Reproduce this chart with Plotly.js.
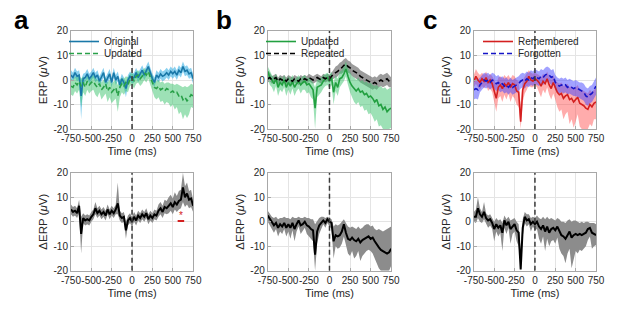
<!DOCTYPE html>
<html><head><meta charset="utf-8">
<script src="https://cdn.plot.ly/plotly-3.0.1.min.js"></script>
<style>html,body{margin:0;padding:0;background:#fff}#chart{width:617px;height:309px}</style>
</head><body><div id="chart"></div>
<script>
// time axis (ms), 25 ms steps
const time = [-750,-725,-700,-675,-650,-625,-600,-575,-550,-525,-500,-475,-450,-425,-400,-375,-350,-325,-300,-275,-250,-225,-200,-175,-150,-125,-100,-75,-50,-25,0,25,50,75,100,125,150,175,200,225,250,275,300,325,350,375,400,425,450,475,500,525,550,575,600,625,650,675,700,725,750];
const xTickVals = [-750,-500,-250,0,250,500,750];
const xTickText = ["-750","-500","-250","0","250","500","750"];
const yTickVals = [-20,-10,0,10,20];
const yTickText = ["-20","-10","0","10","20"];

// ---- Panel a (top): Original vs Updated ----
const aOrig   = [2,1,3,1.5,2,-6.5,0.5,1,2.5,0.5,1.5,3,1,2,-0.5,1,3,-1,0.5,2.5,-1,3,0,1.5,-2,0.5,-1,-3.5,0,1.5,0.5,1,3,1,2.5,4,2,3.5,5.5,3,0.5,-1,2,1,2.5,1.5,2,3,2,3.5,2.5,3.5,2,4,3,5.5,3.5,4,2.5,3,0.5];
const aOrigLo = [0,-0.5,1,-0.5,0,-16,-2,-1,0.5,-1.5,-0.5,1,-1,0,-2.5,-1,1,-3,-1.5,0.5,-3,1,-2,-0.5,-4,-1.5,-3,-7,-2,-0.5,-1.5,-1,1,-1,0.5,2,0,1.5,3.5,1,-1.5,-3,0,-1,0.5,-0.5,0,1,0,1.5,0.5,1.5,0,2,1,3.5,1.5,2,0.5,1,-1.5];
const aOrigHi = [4,3,5,3.5,4,0,2.5,3,4.5,2.5,3.5,5,3,4,1.5,3,5,1,2.5,4.5,1,5,2,3.5,0,2.5,1,-1,2,3.5,2.5,3,5,3,4.5,6,4,5.5,7.5,5,2.5,1,4,3,4.5,3.5,4,5,4,5.5,4.5,5.5,4,6,5,7.5,5.5,6,4.5,5,2.5];
const aUpd    = [-2.5,-3,-1,-2,-0.5,-2.5,-1,-3,-0.5,-2,-1,-0.5,-2,-3,-1.5,-4,-3,-1.5,-4.5,-3,-5,-4,-3,-6.5,-3,-1.5,-2.5,-1,-2,0.5,1,-0.5,1.5,2,0.5,1.5,3,2,3.5,1,-1,-3,-3.5,-2.5,-4,-3.5,-4.5,-3.5,-4,-5,-4.5,-5.5,-5,-6.5,-6,-8,-7,-8.5,-7.5,-6,-6.5];
const aUpdLo  = [-6,-6.5,-4.5,-5.5,-4,-11,-5,-6.5,-4,-5.5,-4.5,-4,-6,-7,-5,-8,-7,-5.5,-9,-7,-9.5,-8.5,-7.5,-13,-7,-5,-6,-4.5,-5,-2.5,-2,-3.5,-1.5,-1,-2.5,-1.5,0,-1,0.5,-2,-4.5,-7,-8,-7,-9,-8.5,-10,-9,-9.5,-11,-10,-12,-11,-14,-13,-16,-14,-15.5,-14,-11,-11.5];
const aUpdHi  = [0.5,0,1.5,1,2,0.5,1.5,0,2,1,1.5,2,1,0,1,-1,0,1,-1,0,-1.5,-0.5,0,-2,0,1,0.5,1.5,1,2.5,3,2,3.5,4,3,3.5,5,4,5.5,3.5,1.5,0,-0.5,0,-1,-0.5,-1.5,-1,-1,-1.5,-1.5,-2,-1.5,-2,-2.5,-3,-2.5,-3,-2.5,-1.5,-2];
// ---- Panel a (bottom): difference ----
const aDiff   = [5,4,4.5,3.5,6.5,-5,1.5,0.5,1,0.5,2,3,5.5,3.5,4.5,3,4,2.5,5,3,4.5,3.5,5,7.5,2.5,1.5,2,-3.5,0.5,1.5,0,2,0.5,2.5,1.5,3,2,3.5,1,2.5,1.5,3,2.5,4.5,5.5,4,6,5.5,6.5,7.5,6,8,7,8.5,9,14,10,11.5,9,9.5,6.5];
const aDiffLo = [3,2,2.5,1.5,3.5,-13,-0.5,-1.5,-1,-1.5,0,1,3,1.5,2.5,1,2,0.5,3,1,2.5,1.5,3,3,0.5,-0.5,0,-7,-1.5,-0.5,-2,0,-1.5,0.5,-0.5,1,0,1.5,-1,0.5,-0.5,1,0.5,2,3,1.5,3.5,3,3.5,4.5,3,5,4,5,5.5,8,6,7,5.5,6,4];
const aDiffHi = [7,6,6.5,5.5,9,2,3.5,2.5,3,2.5,4,5,8,5.5,6.5,5,6,4.5,7,5,6.5,5.5,7,16,4.5,3.5,4,0,2.5,3.5,2,4,2.5,4.5,3.5,5,4,5.5,3,4.5,3.5,5,4.5,7,8,6.5,9,8.5,10,11,9.5,12,10.5,12.5,13,20,14.5,16,12.5,13,9];
const aSigX = [560,640];
const aSigY = [0.3,0.3];
const aStarX = [600];
const aStarY = [2.2];

// ---- Panel b (top): Updated vs Repeated ----
const bUpd    = [3.5,1,0,-1.5,0.5,-3,-1,-2,0,-3,-1,-2.5,-0.5,-3,-1.5,-0.5,-2,-1,-0.5,-2,-1.5,-3,-4,-11.5,-3,-2.5,-2,-0.5,0.5,1,-0.5,1,-5,-1,-3,0.5,1,2.5,4.5,1.5,-1,-2.5,-3.5,-4.5,-3.5,-5,-4.5,-6,-5.5,-7,-6.5,-7.5,-9,-8,-10.5,-10,-12,-11,-13,-12,-11.5];
const bUpdLo  = [0.5,-2,-3,-5,-2.5,-6.5,-4,-5,-3,-6.5,-4,-6,-3.5,-6.5,-4.5,-3.5,-5.5,-4,-4,-5.5,-5,-7,-8,-20,-7,-6,-5,-3.5,-2.5,-2,-3.5,-2,-10,-4.5,-6.5,-3,-2,-0.5,1.5,-2,-5,-7,-9,-10,-9,-11,-10.5,-12.5,-12,-14,-13.5,-15,-17,-16,-19,-18.5,-20,-20,-20,-20,-19.5];
const bUpdHi  = [5.5,3.5,2,1,2.5,0,1.5,0.5,2,0,1.5,0.5,2,0,1,2,0.5,1.5,2,0.5,1,0,-1,-3,0,0.5,1,2,2.5,3,2,3.5,-1,2,0.5,3.5,4,5.5,7.5,5,3,1.5,1,0,1,-0.5,0,-1,-0.5,-1.5,-1,-2,-2.5,-2,-3,-2.5,-3.5,-3,-4,-3.5,-3];
const bRep    = [0.5,1,0,0.5,1,-0.5,0.5,0,0.5,-0.5,0.5,0,-0.5,0.5,0,-0.5,0.5,0,0.5,0,1,0.5,0,0.5,1,0.5,0,1,0.5,1,0.5,1.5,2.5,3,3.5,4.5,5,6,6.5,5.5,5,4,3.5,3,2.5,1.5,1,0.5,0,-0.5,-1,-1.5,-1,-1.5,-0.5,0,-0.5,0,0.5,-0.5,-1];
const bRepLo  = [-1,-0.5,-1.5,-1,-0.5,-2,-1,-1.5,-1,-2,-1,-1.5,-2,-1,-1.5,-2,-1,-1.5,-1,-1.5,-0.5,-1,-1.5,-1,-0.5,-1,-1.5,-0.5,-1,-0.5,-1,0,0.5,1,1.5,2.5,2.5,3.5,4,3,2.5,1.5,1,0.5,0,-1,-1.5,-2,-2.5,-3,-3.5,-4,-3.5,-4,-3,-2.5,-3,-2.5,-2,-3,-3];
const bRepHi  = [4,3,1.5,2,2.5,1,2,1.5,2,1,2,1.5,1,2,1.5,1,2,1.5,2,1.5,2.5,2,1.5,2,2.5,2,1.5,2.5,2,2.5,2,3,4.5,5.5,6,7,7.5,8.5,9,8,7.5,6.5,6,5.5,5,4,3.5,3,2.5,2,1.5,1,1.5,1,2,2.5,2,2.5,3,2,1];
// ---- Panel b (bottom): difference ----
const bDiff   = [2.5,1,-0.5,-1.5,-0.5,-2.5,-1,-2,-0.5,-2.5,-1,-2.5,-0.5,-3,-1,0.5,-1.5,-1,0,-1.5,-2,-3,-3.5,-13.5,-4,-1.5,-0.5,0.5,-0.5,1,0,-0.5,-8,-5.5,-6,-5.5,-4,-1,-4.5,-7,-7.5,-6.5,-7.5,-8,-7,-8.5,-7.5,-7,-6.5,-6,-7,-6.5,-8,-9.5,-10.5,-11.5,-12,-12.5,-13,-12.5,-11];
const bDiffLo = [0,-1.5,-3,-4.5,-3,-6,-4,-5,-3,-6,-4,-7,-3.5,-8,-4,-2,-5,-4,-2.5,-5,-6,-7,-8,-20,-9,-5,-3,-1,-2.5,-0.5,-2,-3,-15,-10,-11,-10.5,-9,-6,-10,-13,-14,-12,-15,-14,-12,-16,-14,-13,-12,-11.5,-12,-13,-15,-17,-19,-20,-20,-20,-20,-20,-18];
const bDiffHi = [4.5,3,2,1.5,2,1,1.5,1.5,2,1.5,1.5,1,2,1.5,1.5,2,1.5,1.5,2,1.5,1.5,1,1,-1,0.5,1.5,2,2,1.5,2,1.5,1,-2,-1,-1.5,-1,0,1,-0.5,-2,-2.5,-2,-2.5,-3,-2,-3,-2.5,-1.5,-1,-1,-2,-1.5,-3,-3.5,-3,-3.5,-4,-3.5,-3,-2.5,-2];

// ---- Panel c (top): Remembered vs Forgotten ----
const cRem    = [-0.5,1.5,0,-1,0.5,-0.5,1,-1,0,-1.5,-4.5,-7.5,-3,-2,-3.5,-1.5,-2.5,-1,-3,-1.5,-2,-4.5,-5,-17,-4,-1.5,-0.5,1.5,0,-0.5,0.5,0,-1,-2.5,-0.5,-1.5,0.5,-2,-3.5,-1,-3,-5,-6,-5.5,-7.5,-6.5,-6,-8,-7.5,-9,-8,-7,-9.5,-10,-10.5,-11.5,-12,-10,-11,-9.5,-9];
const cRemLo  = [-3,-1.5,-3,-4,-2.5,-3.5,-2,-4.5,-3.5,-5,-9,-13,-7.5,-6.5,-9,-6,-8,-5.5,-9,-6.5,-7.5,-10,-11,-20,-9,-5.5,-4,-2,-3,-3,-2,-3,-5,-7,-4,-5.5,-3,-6,-8,-5.5,-8,-11,-13,-12,-16,-14,-13,-18,-16,-19.5,-17,-14,-19,-20,-20,-20,-20,-18,-19,-16,-16];
const cRemHi  = [2,4.5,3,2,3,2,3.5,1.5,2.5,1.5,0,-2,1,1.5,0.5,2,1,2,0.5,2,1.5,0,-0.5,-10,0,1.5,2.5,4,3,2.5,3,2.5,2,1,2.5,1.5,3.5,1.5,0,2,0,-1,-1.5,-1,-2.5,-2,-1.5,-3,-2.5,-3.5,-3,-2,-4,-4,-4.5,-5,-5.5,-4,-5,-4,-3.5];
const cFor    = [-4,-3.5,-4,-2,-1,0,-0.5,0,-1,0,-0.5,-1.5,-1,-2,-1.5,-2.5,-2,-3,-2,-3,-2.5,-2,-1.5,-0.5,0,-0.5,0.5,0,1,0.5,1.5,1,0.5,1.5,1,2,2.5,2,1,1.5,-1,-2,-2.5,-2,-2.5,-2,-3,-2.5,-3,-3.5,-3,-3.5,-4,-4.5,-5,-6.5,-7,-6,-5.5,-4,-2.5];
const cForLo  = [-8,-7.5,-8,-5,-4,-3,-3.5,-3,-4,-3,-3.5,-4.5,-4,-5,-4.5,-5.5,-5,-6,-5,-6,-5.5,-5,-4.5,-3.5,-3,-3.5,-2.5,-3,-2,-2.5,-1.5,-2,-2.5,-1.5,-2,-1,-0.5,-1,-2,-1.5,-4,-5,-5.5,-5,-5.5,-5,-6,-5.5,-6,-6.5,-6.5,-7,-7.5,-8,-8.5,-10,-10.5,-9.5,-9,-7.5,-6];
const cForHi  = [0,0.5,0,1,2,3,2.5,3,2,3,2.5,1.5,2,1,1.5,0.5,1,0,1,0,0.5,1,1.5,2.5,3,2.5,3.5,3,4,3.5,4.5,4,3.5,4.5,4,5,5.5,5,4,4.5,2,1,0.5,1,0.5,1,0,0.5,0,-0.5,0,-0.5,-1,-1,-1.5,-3,-3.5,-2.5,-2,-0.5,1];
// ---- Panel c (bottom): difference ----
const cDiff   = [2,2,5.5,3,2,4,1.5,0.5,1,-0.5,-3,-1,-2.5,-1.5,-4.5,0.5,-1.5,0,-3,-2,-1,-3.5,-4.5,-19.5,-2.5,2,0.5,1,-1,0,-1,0,-2,-3,-1.5,-4,-2,-4.5,-3,-2.5,-3.5,-2,-4,-5.5,-6,-7,-5.5,-4,-6.5,-5.5,-5,-5.5,-5,-5.5,-5,-4.5,-3,-2.5,-4.5,-5,-5.5];
const cDiffLo = [0,-0.5,1.5,0,-0.5,1,-1,-2.5,-1.5,-3,-8,-4,-6,-4.5,-12,-2.5,-5,-2.5,-9,-5,-4,-8,-10,-20,-6,-0.5,-2,-1,-4,-2,-3.5,-3,-7,-9,-6,-12,-7,-10,-8,-7.5,-9,-6.5,-11,-13,-14,-17,-13,-11,-19,-15,-12,-13,-11.5,-12,-11,-10,-7.5,-6,-11,-10,-9.5];
const cDiffHi = [4,5,10,5.5,4,8,3.5,2.5,3,1.5,0,1.5,0.5,1,-0.5,2.5,1,2,0.5,1,1.5,0,-1,-12,1,4,3,3,1.5,2,1.5,2.5,1.5,1,2,1,2,1,1.5,1,0.5,1.5,1,0,0,-0.5,0.5,1,0,0.5,0.5,0,-0.5,0,-0.5,0,0,-0.5,-0.5,-0.5,-1];

const FONT = "Liberation Sans, Arial, Helvetica, sans-serif";
const traces = [];
function band(xa, ya, lo, hi, color) {
  traces.push({x: time.concat(time.slice().reverse()), y: hi.concat(lo.slice().reverse()),
    xaxis: xa, yaxis: ya, type: 'scatter', mode: 'lines', fill: 'toself', fillcolor: color,
    line: {width: 0, color: 'rgba(0,0,0,0)'}, hoverinfo: 'skip', showlegend: false});
}
function line(xa, ya, y, color, dash, name, legend, width) {
  traces.push({x: time, y: y, xaxis: xa, yaxis: ya, type: 'scatter', mode: 'lines',
    line: {color: color, width: width || 1.6, dash: dash || 'solid'}, name: name || '',
    showlegend: !!name, legend: legend});
}
// panel a top
band('x', 'y', aOrigLo, aOrigHi, 'rgba(40,170,225,0.55)');
band('x', 'y', aUpdLo, aUpdHi, 'rgba(60,195,110,0.5)');
line('x', 'y', aOrig, '#1a78a8', 'solid', 'Original', 'legend');
line('x', 'y', aUpd, '#28a048', '5px,3px', 'Updated', 'legend4');
// panel b top
band('x2', 'y2', bRepLo, bRepHi, 'rgba(90,90,90,0.6)');
band('x2', 'y2', bUpdLo, bUpdHi, 'rgba(60,195,110,0.5)');
line('x2', 'y2', bUpd, '#22a040', 'solid', 'Updated', 'legend2');
line('x2', 'y2', bRep, '#000000', '5px,3px', 'Repeated', 'legend5');
// panel c top
band('x3', 'y3', cRemLo, cRemHi, 'rgba(255,70,70,0.45)');
band('x3', 'y3', cForLo, cForHi, 'rgba(70,70,255,0.5)');
line('x3', 'y3', cRem, '#d41f1f', 'solid', 'Remembered', 'legend3');
line('x3', 'y3', cFor, '#1515c8', '5px,3px', 'Forgotten', 'legend6');
// bottom panels
band('x4', 'y4', aDiffLo, aDiffHi, '#8c8c8c');
line('x4', 'y4', aDiff, '#000000', 'solid', null, null, 2);
band('x5', 'y5', bDiffLo, bDiffHi, '#8c8c8c');
line('x5', 'y5', bDiff, '#000000', 'solid', null, null, 2);
band('x6', 'y6', cDiffLo, cDiffHi, '#8c8c8c');
line('x6', 'y6', cDiff, '#000000', 'solid', null, null, 2);
// significance marker
traces.push({x: aSigX, y: aSigY, xaxis: 'x4', yaxis: 'y4', type: 'scatter', mode: 'lines',
  line: {color: '#d42020', width: 2}, showlegend: false, hoverinfo: 'skip'});
traces.push({x: aStarX, y: aStarY, xaxis: 'x4', yaxis: 'y4', type: 'scatter', mode: 'text',
  text: ['*'], textfont: {color: '#d42020', size: 10, family: FONT}, showlegend: false, hoverinfo: 'skip'});

const xDom = [[0.115,0.313],[0.434,0.634],[0.768,0.966]];
const yDom = [[0.5825,0.8997],[0.124,0.441]];
function xax(i, anchor) {
  return {domain: xDom[i % 3], anchor: anchor, range: [-750,750], tickvals: xTickVals, ticktext: xTickText,
    tickangle: 0, showgrid: true, gridcolor: '#e4e4e4', zeroline: false, showline: true, mirror: true,
    linecolor: '#a8a8a8', linewidth: 1, ticks: 'inside', ticklen: 3, tickcolor: '#a8a8a8',
    tickfont: {family: FONT, size: 10, color: '#262626'}, fixedrange: true,
    title: {text: 'Time (ms)', font: {family: FONT, size: 11, color: '#262626'}, standoff: 4}};
}
function yax(i, anchor, label) {
  return {domain: yDom[i < 3 ? 0 : 1], anchor: anchor, range: [-20,20], tickvals: yTickVals, ticktext: yTickText,
    showgrid: true, gridcolor: '#e4e4e4', zeroline: false, showline: true, mirror: true,
    linecolor: '#a8a8a8', linewidth: 1, ticks: 'inside', ticklen: 3, tickcolor: '#a8a8a8',
    tickfont: {family: FONT, size: 10, color: '#262626'}, fixedrange: true,
    title: {text: label, font: {family: FONT, size: 11.5, color: '#262626'}, standoff: 3}};
}
const erp = 'ERP (<i>μ</i>V)';
const derp = 'ΔERP (<i>μ</i>V)';
const legBase = {bgcolor: 'rgba(0,0,0,0)', borderwidth: 0, font: {family: FONT, size: 10, color: '#262626'},
  xanchor: 'left', yanchor: 'top', tracegroupgap: 0, itemwidth: 30};
function leg(xpx, ypx) { return Object.assign({}, legBase, {x: xpx / 617, y: 1 - ypx / 309}); }
const layout = {
  width: 617, height: 309, margin: {l: 0, r: 0, t: 0, b: 0}, paper_bgcolor: '#fff', plot_bgcolor: '#fff',
  showlegend: true,
  xaxis: xax(0, 'y'), yaxis: yax(0, 'x', erp),
  xaxis2: xax(1, 'y2'), yaxis2: yax(1, 'x2', erp),
  xaxis3: xax(2, 'y3'), yaxis3: yax(2, 'x3', erp),
  xaxis4: xax(3, 'y4'), yaxis4: yax(3, 'x4', derp),
  xaxis5: xax(4, 'y5'), yaxis5: yax(4, 'x5', derp),
  xaxis6: xax(5, 'y6'), yaxis6: yax(5, 'x6', derp),
  legend: leg(64, 27), legend4: leg(64, 39),
  legend2: leg(261, 27), legend5: leg(261, 39),
  legend3: leg(478, 27), legend6: leg(478, 39),
  shapes: [['x','y'],['x2','y2'],['x3','y3'],['x4','y4'],['x5','y5'],['x6','y6']].map(p => ({
    type: 'line', xref: p[0], yref: p[1], x0: 0, x1: 0, y0: -20, y1: 20,
    line: {color: '#3a3a3a', width: 1.5, dash: '5px,3px'}})),
  annotations: [['a',0.02],['b',0.347],['c',0.682]].map(p => ({
    text: '<b>' + p[0] + '</b>', xref: 'paper', yref: 'paper', x: p[1], y: 0.99,
    xanchor: 'left', yanchor: 'top', showarrow: false, font: {family: FONT, size: 26, color: '#000'}}))
};
Plotly.newPlot('chart', traces, layout, {staticPlot: true, displayModeBar: false});
</script></body></html>
